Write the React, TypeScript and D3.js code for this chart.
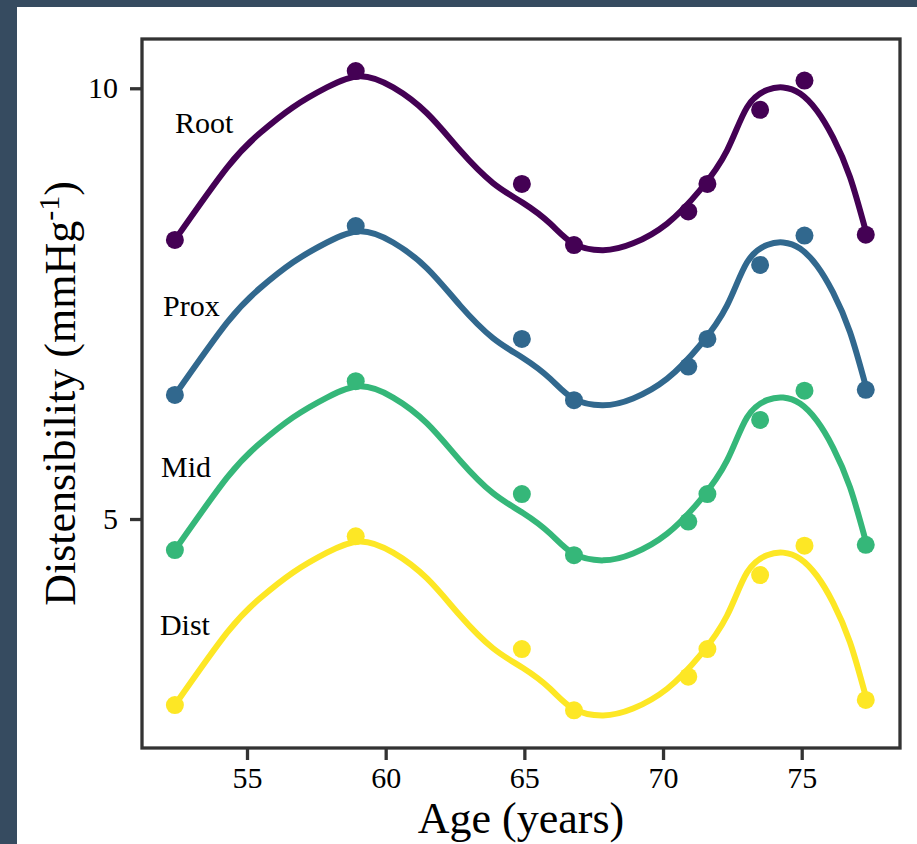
import React, { useEffect, useRef } from "react";
import * as d3 from "d3";

// observed ages (years)
const ages = [52.4, 58.92, 64.91, 66.79, 70.91, 71.6, 73.5, 75.1, 77.31];

// distensibility per segment (mmHg^-1)
const rootValues = [8.24, 10.2, 8.89, 8.18, 8.57, 8.89, 9.75, 10.09, 8.3];
const proxValues = [6.44, 8.4, 7.09, 6.38, 6.77, 7.09, 7.95, 8.29, 6.5];
const midValues = [4.64, 6.6, 5.29, 4.58, 4.97, 5.29, 6.15, 6.49, 4.7];
const distValues = [2.84, 4.8, 3.49, 2.78, 3.17, 3.49, 4.35, 4.69, 2.9];

// smoothed fit
const fitAges = [
  52.4, 54.28, 55.47, 56.66, 57.88, 59.07, 60.27, 61.49, 62.68, 63.87,
  64.95, 65.93, 66.76, 67.84, 68.92, 70.15, 71.34, 72.31, 73.03, 73.75, 74.33,
  74.94, 75.55, 76.13, 76.74, 77.32,
];
const rootFit = [
  8.24, 9.08, 9.48, 9.78, 10.01, 10.14, 10.01, 9.71, 9.28, 8.9, 8.67,
  8.43, 8.2, 8.12, 8.2, 8.43, 8.82, 9.28, 9.78, 9.98, 10.01, 9.94, 9.74, 9.43,
  8.97, 8.33,
];
const proxFit = [
  6.44, 7.28, 7.68, 7.98, 8.21, 8.34, 8.21, 7.91, 7.48, 7.1, 6.87, 6.63,
  6.4, 6.32, 6.4, 6.63, 7.02, 7.48, 7.98, 8.18, 8.21, 8.14, 7.94, 7.63, 7.17,
  6.53,
];
const midFit = [
  4.64, 5.48, 5.88, 6.18, 6.41, 6.54, 6.41, 6.11, 5.68, 5.3, 5.07, 4.83,
  4.6, 4.52, 4.6, 4.83, 5.22, 5.68, 6.18, 6.38, 6.41, 6.34, 6.14, 5.83, 5.37,
  4.73,
];
const distFit = [
  2.84, 3.68, 4.08, 4.38, 4.61, 4.74, 4.61, 4.31, 3.88, 3.5, 3.27, 3.03,
  2.8, 2.72, 2.8, 3.03, 3.42, 3.88, 4.38, 4.58, 4.61, 4.54, 4.34, 4.03, 3.57,
  2.93,
];

const segmentNames = ["Root", "Prox", "Mid", "Dist"];
const segmentColors = ["#440154", "#31688e", "#35b779", "#fde725"];
// where each name sits (age, value)
const labelAges = [52.4, 51.97, 51.9, 51.86];
const labelValues = [9.48, 7.36, 5.49, 3.65];

const xTicks = [55, 60, 65, 70, 75];
const yTicks = [5, 10];

const W = 917;
const H = 844;
const FONT = "'Liberation Serif', 'Times New Roman', serif";

const App = () => {
  const svgRef = useRef<SVGSVGElement | null>(null);

  useEffect(() => {
    const svg = d3.select(svgRef.current);
    svg.selectAll("*").remove();

    // dark frame behind the white panel
    svg.append("rect").attr("width", W).attr("height", H).attr("fill", "#364b60");
    svg
      .append("rect")
      .attr("x", 17)
      .attr("y", 7)
      .attr("width", W - 17)
      .attr("height", H - 7)
      .attr("fill", "#ffffff");

    const plot = { left: 142, right: 900, top: 39, bottom: 748 };

    const x = d3.scaleLinear().domain([51.214, 78.544]).range([plot.left, plot.right]);
    const y = d3.scaleLinear().domain([2.342, 10.572]).range([plot.bottom, plot.top]);

    const series = [
      { pts: rootValues, fit: rootFit },
      { pts: proxValues, fit: proxFit },
      { pts: midValues, fit: midFit },
      { pts: distValues, fit: distFit },
    ];

    const line = d3
      .line<number>()
      .x((_, i) => x(fitAges[i]))
      .y((d) => y(d))
      .curve(d3.curveNatural);

    const g = svg.append("g");
    series.forEach((s, k) => {
      g.append("path")
        .attr("d", line(s.fit))
        .attr("fill", "none")
        .attr("stroke", segmentColors[k])
        .attr("stroke-width", 6)
        .attr("stroke-linecap", "round");

      g.selectAll(`.pt${k}`)
        .data(s.pts)
        .enter()
        .append("circle")
        .attr("cx", (_, i) => x(ages[i]))
        .attr("cy", (d) => y(d))
        .attr("r", 9)
        .attr("fill", segmentColors[k]);

      g.append("text")
        .attr("x", x(labelAges[k]))
        .attr("y", y(labelValues[k]))
        .attr("font-family", FONT)
        .attr("font-size", 30)
        .attr("fill", "#000")
        .text(segmentNames[k]);
    });

    // frame
    svg
      .append("rect")
      .attr("x", plot.left)
      .attr("y", plot.top)
      .attr("width", plot.right - plot.left)
      .attr("height", plot.bottom - plot.top)
      .attr("fill", "none")
      .attr("stroke", "#333333")
      .attr("stroke-width", 3.3);

    // x axis
    const xAxis = svg
      .append("g")
      .attr("transform", `translate(0,${plot.bottom})`)
      .call(d3.axisBottom(x).tickValues(xTicks).tickSize(12).tickSizeOuter(0).tickPadding(7));
    xAxis.attr("font-family", FONT).attr("font-size", 30);
    xAxis.select(".domain").remove();
    xAxis.selectAll("line").attr("stroke", "#333333").attr("stroke-width", 3.3);
    xAxis.selectAll("text").attr("fill", "#000");

    // y axis
    const yAxis = svg
      .append("g")
      .attr("transform", `translate(${plot.left},0)`)
      .call(d3.axisLeft(y).tickValues(yTicks).tickSize(12).tickSizeOuter(0).tickPadding(12));
    yAxis.attr("font-family", FONT).attr("font-size", 30);
    yAxis.select(".domain").remove();
    yAxis.selectAll("line").attr("stroke", "#333333").attr("stroke-width", 3.3);
    yAxis.selectAll("text").attr("fill", "#000");

    // titles
    svg
      .append("text")
      .attr("x", (plot.left + plot.right) / 2)
      .attr("y", 833)
      .attr("text-anchor", "middle")
      .attr("font-family", FONT)
      .attr("font-size", 44)
      .attr("fill", "#000")
      .text("Age (years)");

    const yt = svg
      .append("text")
      .attr("transform", `translate(75,${(plot.top + plot.bottom) / 2}) rotate(-90)`)
      .attr("text-anchor", "middle")
      .attr("font-family", FONT)
      .attr("font-size", 44)
      .attr("fill", "#000");
    yt.append("tspan").text("Distensibility (mmHg");
    yt.append("tspan").attr("font-size", 30).attr("dy", -16).text("-1");
    yt.append("tspan").attr("dy", 16).text(")");
  }, []);

  return (
    <div style={{ position: "absolute", left: 0, top: 0, width: W, height: H }}>
      <svg ref={svgRef} width={W} height={H} style={{ display: "block" }} />
    </div>
  );
};

export default App;
